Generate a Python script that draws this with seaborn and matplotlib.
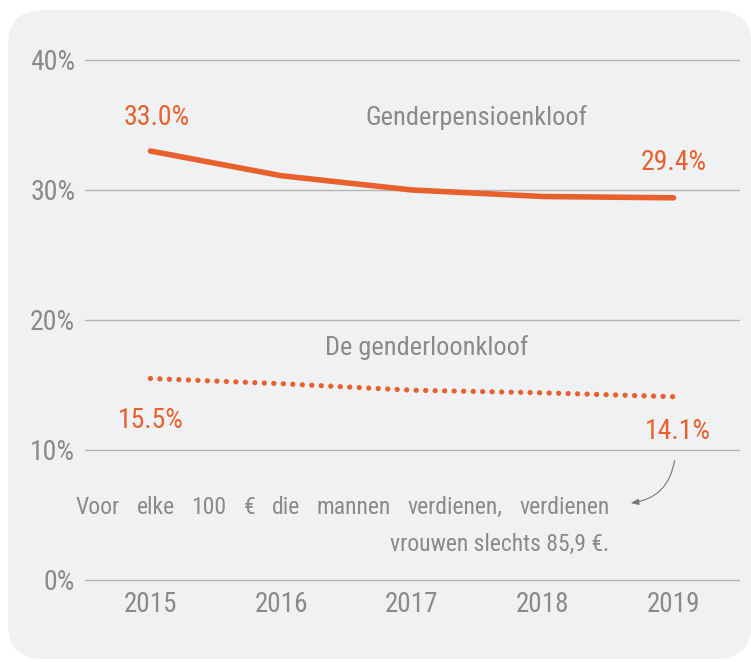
import matplotlib
matplotlib.use("Agg")
import numpy as np
import pandas as pd
import seaborn as sns
import matplotlib.pyplot as plt
from matplotlib.patches import FancyBboxPatch

## data
years = [2015, 2016, 2017, 2018, 2019]
pension_gap = [33.0, 31.1, 30.0, 29.5, 29.4]
wage_gap = [15.5, 15.1, 14.6, 14.4, 14.1]
y_ticks = [0, 10, 20, 30, 40]
y_labels = ["0%", "10%", "20%", "30%", "40%"]

ORANGE = "#e8602c"
GREY = "#8a8a8a"

sns.set_theme(style="white")
plt.rcParams["font.family"] = ["Roboto Condensed", "Liberation Sans Narrow", "Liberation Sans", "DejaVu Sans"]

df = pd.DataFrame({"Jaar": years, "Pensioen": pension_gap, "Loon": wage_gap})

fig = plt.figure(figsize=(7.51, 6.62), dpi=100)
fig.patch.set_facecolor("white")

## rounded grey panel behind the chart
panel = FancyBboxPatch((8 / 751, 3 / 662), 0.99, 649 / 662,
                       boxstyle="round,pad=0,rounding_size=0.05",
                       transform=fig.transFigure, facecolor="#f0f1f3",
                       edgecolor="none", zorder=-10)
fig.patches.append(panel)

ax = fig.add_axes([85 / 751, 82 / 662, 654 / 751, 520 / 662])
ax.set_facecolor("none")

sns.lineplot(data=df, x="Jaar", y="Pensioen", ax=ax, color=ORANGE, linewidth=4,
             solid_capstyle="round", solid_joinstyle="round")
sns.lineplot(data=df, x="Jaar", y="Loon", ax=ax, color=ORANGE, linewidth=3.8,
             linestyle=(0, (0.01, 1.79)), dash_capstyle="round")

ax.set_xlim(2014.5, 2019.5)
ax.set_ylim(0, 40)
ax.set_yticks(y_ticks)
ax.set_yticklabels(y_labels, fontsize=20, color=GREY)
ax.set_xticks(years)
ax.set_xticklabels([str(y) for y in years], fontsize=19.5, color=GREY)
ax.tick_params(axis="x", length=0, pad=8)
ax.tick_params(axis="y", length=0, pad=7)
for yv in y_ticks:
    ax.axhline(yv, color="#b4b4b4", linewidth=1, zorder=1, clip_on=False)
for s in ax.spines.values():
    s.set_visible(False)
ax.set_xlabel("")
ax.set_ylabel("")

## value labels and series titles
ax.text(2015.05, 35.6, f"{pension_gap[0]:.1f}%", color=ORANGE,
        fontsize=20, ha="center", va="center")
ax.text(2019.0, 32.1, f"{pension_gap[-1]:.1f}%", color=ORANGE,
        fontsize=20, ha="center", va="center")
ax.text(2015.0, 12.3, f"{wage_gap[0]:.1f}%", color=ORANGE,
        fontsize=20, ha="center", va="center")
ax.text(2019.03, 11.4, f"{wage_gap[-1]:.1f}%", color=ORANGE,
        fontsize=20, ha="center", va="center")
ax.text(2017.49, 35.6, "Genderpensioenkloof", color=GREY, fontsize=19,
        ha="center", va="center")
ax.text(2017.11, 17.85, "De genderloonkloof", color=GREY, fontsize=19,
        ha="center", va="center")

## justified note under the wage line
words = "Voor elke 100 € die mannen verdienen, verdienen".split()
x_left, x_right, y_line = 2014.43, 2018.51, 5.6
fig.canvas.draw()
renderer = fig.canvas.get_renderer()
texts = [ax.text(0, y_line, w, color=GREY, fontsize=17, ha="left", va="center") for w in words]
widths = []
for t in texts:
    bb = t.get_window_extent(renderer).transformed(ax.transData.inverted())
    widths.append(bb.width)
gap = (x_right - x_left - sum(widths)) / (len(words) - 1)
xpos = x_left
for t, w in zip(texts, widths):
    t.set_x(xpos)
    xpos += w + gap
ax.text(x_right, 2.7, "vrouwen slechts 85,9 €.", color=GREY, fontsize=17,
        ha="right", va="center")

ax.annotate("", xy=(2018.65, 5.9), xytext=(2019.01, 9.4),
            arrowprops=dict(arrowstyle="-|>,head_length=0.4,head_width=0.15",
                            color="#777777", lw=0.8,
                            connectionstyle="arc3,rad=-0.4"))

fig.savefig("out.png", dpi=100, facecolor=fig.get_facecolor())
